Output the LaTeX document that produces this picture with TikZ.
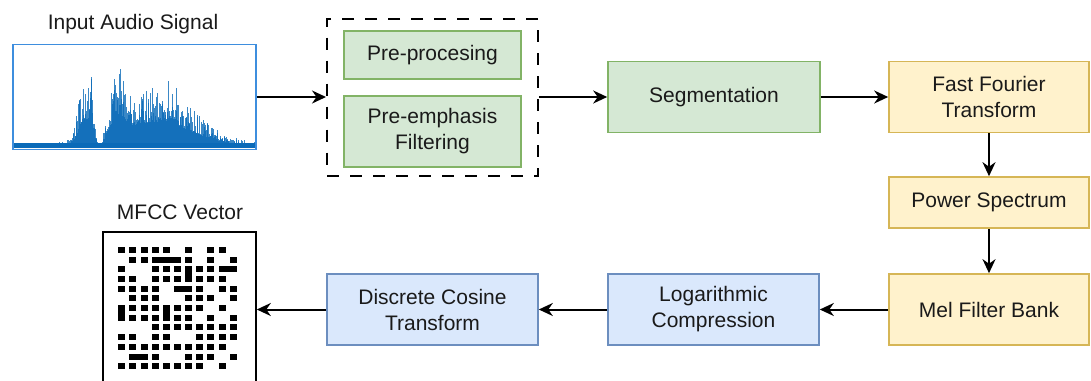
\documentclass[tikz,border=0pt]{standalone}
\usepackage{fontspec}
\setmainfont{Liberation Sans}
\usetikzlibrary{arrows.meta}
\definecolor{gfill}{HTML}{D5E8D4}\definecolor{gdraw}{HTML}{82B366}
\definecolor{yfill}{HTML}{FFF2CC}\definecolor{ydraw}{HTML}{D6B656}
\definecolor{bfill}{HTML}{DAE8FC}\definecolor{bdraw}{HTML}{6C8EBF}
\definecolor{wavec}{HTML}{0A6AB8}\definecolor{audiob}{HTML}{3E8EDE}
\definecolor{txt}{HTML}{1A1A1A}
\begin{document}
\begin{tikzpicture}[x=1pt,y=-1pt,
  font=\fontsize{21}{26}\selectfont, text=txt,
  box/.style={draw, line width=1.6pt, align=center, inner sep=0pt},
  gbox/.style={box, fill=gfill, draw=gdraw},
  ybox/.style={box, fill=yfill, draw=ydraw},
  bbox/.style={box, fill=bfill, draw=bdraw},
  conn/.style={line width=2pt, draw=black, -{Stealth[length=14pt,width=13pt,inset=4.5pt]}},
  wave/.style={draw=wavec, line width=0.9pt, opacity=0.8},
  cell/.style={fill=black},
  declare function={env(\x)=4+48*exp(-((\x-155)/52)^2)+45*exp(-((\x-84)/8)^2)+40*exp(-((\x-91)/2.5)^2)+35*exp(-((\x-118)/9)^2)+12*exp(-((\x-172)/6)^2)-25*exp(-((\x-100)/4)^2);}
]
\useasboundingbox (0,0) rectangle (1091,380);
\clip (0,0) rectangle (1091,380);

% input audio
\node (audiolabel) at (133,24) {Input Audio Signal};
\node[draw=audiob, line width=1.6pt, minimum width=243, minimum height=105, inner sep=0pt] (audio) at (134.5,97) {};
\begin{scope}
  \clip (14,45) rectangle (255,148);
  \pgfmathsetseed{11}
  \foreach \x in {14,14.5,...,255} {
    \pgfmathsetmacro\h{max(2,env(\x)*(0.5+0.7*rnd^2))}
    \draw[wave] (\x,148) -- (\x,148-\h);
  }
  \fill[wavec] (14,143) rectangle (255,148);
\end{scope}

% preprocessing group
\node[draw, dash pattern=on 12pt off 11pt, line width=2pt, minimum width=211, minimum height=157, inner sep=0pt] (group) at (432.5,97) {};
\node[gbox, minimum width=177, minimum height=48] (pre) at (432.5,55) {Pre-procesing};
\node[gbox, minimum width=177, minimum height=71] (emph) at (432.5,131.5) {Pre-emphasis\\Filtering};

\node[gbox, minimum width=212, minimum height=71] (seg) at (714,97) {Segmentation};
\node[ybox, minimum width=200, minimum height=71] (fft) at (989,97) {Fast Fourier\\Transform};
\node[ybox, minimum width=200, minimum height=51] (pow) at (989,202.5) {Power Spectrum};
\node[ybox, minimum width=200, minimum height=71] (mel) at (989,309.5) {Mel Filter Bank};
\node[bbox, minimum width=211, minimum height=71] (log) at (713.5,309.5) {Logarithmic\\Compression};
\node[bbox, minimum width=211, minimum height=71] (dct) at (432.5,309.5) {Discrete Cosine\\Transform};

% MFCC vector
\node (mfcclabel) at (180,212) {MFCC Vector};
\node[draw, line width=1.6pt, minimum width=153, minimum height=170, inner sep=0pt] (mfcc) at (179.5,317) {};
\foreach \r/\cols in {0/{0,1,2,3,4,6,8,9},1/{1,2,6,8,10},2/{0,3,4,5,7,8},3/{0,1,3,4,5,7,8,9},
  4/{0,1,2,3,7,9,10},5/{1,2,3,6,7,8,10},6/{1,2,3,5,6,7,9},7/{1,2,3,5,6,8,10},
  8/{3,4,5,6,7,8,9,10},9/{0,1,3,4,7,8,9,10},10/{0,1,2,3,4,5,6,7,8,9},11/{3,6,7,8,10},12/{0,1,2,3,4,5,6,7,9}} {
  \foreach \c in \cols {
    \fill[cell] ({121.7+11.16*\c-3.5},{249.8+9.7*\r-3}) rectangle ++(7,6);
  }
}
% horizontal bars: row/from/to
\foreach \r/\a/\b in {1/3/5,2/9/10,4/5/6,11/1/2} {
  \fill[cell] ({121.7+11.16*\a-3.5},{249.8+9.7*\r-3}) rectangle ({121.7+11.16*\b+3.5},{249.8+9.7*\r+3});
}
% vertical bars: col/from/to
\foreach \c/\a/\b in {6/2/3,0/6/7,4/6/7} {
  \fill[cell] ({121.7+11.16*\c-3.5},{249.8+9.7*\a-3}) rectangle ({121.7+11.16*\c+3.5},{249.8+9.7*\b+3});
}

% connectors
\draw[conn] (audio.east) -- (group.west);
\draw[conn] (group.east) -- (seg.west);
\draw[conn] (seg.east) -- (fft.west);
\draw[conn] (fft.south) -- (pow.north);
\draw[conn] (pow.south) -- (mel.north);
\draw[conn] (mel.west) -- (log.east);
\draw[conn] (log.west) -- (dct.east);
\draw[conn] (dct.west) -- (dct.west -| mfcc.east);
\end{tikzpicture}
\end{document}
